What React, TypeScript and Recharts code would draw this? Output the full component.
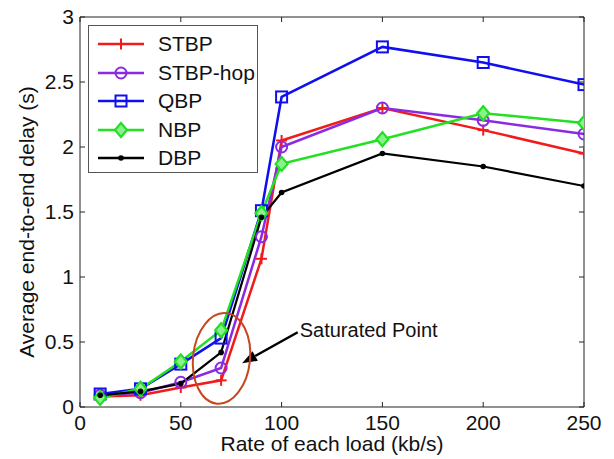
import { Label, Legend, Line, LineChart, ReferenceDot, ReferenceLine, XAxis, YAxis } from "recharts";

const rates = [10, 30, 50, 70, 90, 100, 150, 200, 250];
const stbp = [0.08, 0.09, 0.15, 0.205, 1.14, 2.05, 2.3, 2.13, 1.95];
const stbpHop = [0.09, 0.11, 0.19, 0.3, 1.31, 2.0, 2.3, 2.205, 2.1];
const qbp = [0.1, 0.14, 0.33, 0.53, 1.51, 2.385, 2.77, 2.65, 2.48];
const nbp = [0.07, 0.14, 0.35, 0.59, 1.49, 1.87, 2.06, 2.26, 2.185];
const dbp = [0.09, 0.12, 0.18, 0.42, 1.46, 1.65, 1.95, 1.85, 1.7];

const xTicks = [0, 50, 100, 150, 200, 250];
const yTicks = [0, 0.5, 1, 1.5, 2, 2.5, 3];

const series = [
  { key: "stbp", name: "STBP", color: "#f01c1c", marker: "plus", values: stbp },
  { key: "stbpHop", name: "STBP-hop", color: "#8a2be2", marker: "circle", values: stbpHop },
  { key: "qbp", name: "QBP", color: "#1010ee", marker: "square", values: qbp },
  { key: "nbp", name: "NBP", color: "#22e022", marker: "diamond", values: nbp },
  { key: "dbp", name: "DBP", color: "#000000", marker: "dot", values: dbp },
];

const rows = rates.map((rate, i) => {
  const row: Record<string, number> = { rate };
  series.forEach((s) => (row[s.key] = s.values[i]));
  return row;
});

const FONT = '"Liberation Sans", Arial, Helvetica, sans-serif';
const AXIS = "#222";

function Marker({ kind, cx, cy, color }: { kind: string; cx: number; cy: number; color: string }) {
  if (cx == null || cy == null) return <g />;
  switch (kind) {
    case "plus":
      return (
        <g stroke={color} strokeWidth={2}>
          <line x1={cx - 5.5} y1={cy} x2={cx + 5.5} y2={cy} />
          <line x1={cx} y1={cy - 5.5} x2={cx} y2={cy + 5.5} />
        </g>
      );
    case "circle":
      return <circle cx={cx} cy={cy} r={5.5} fill="none" stroke={color} strokeWidth={2} />;
    case "square":
      return <rect x={cx - 5.5} y={cy - 5.5} width={11} height={11} fill="none" stroke={color} strokeWidth={2} />;
    case "diamond":
      return (
        <polygon
          points={`${cx},${cy - 7} ${cx + 6},${cy} ${cx},${cy + 7} ${cx - 6},${cy}`}
          fill="#8cf08c"
          stroke={color}
          strokeWidth={2.2}
        />
      );
    default:
      return <circle cx={cx} cy={cy} r={2.8} fill={color} />;
  }
}

function LegendBox() {
  return (
    <div
      style={{
        width: 170,
        height: 148,
        border: "1px solid #555",
        background: "#fff",
        fontFamily: FONT,
        fontSize: 21,
        color: "#111",
        paddingTop: 4,
        boxSizing: "border-box",
      }}
    >
      {series.map((s) => (
        <div key={s.key} style={{ display: "flex", alignItems: "center", height: 28.5 }}>
          <svg width={58} height={20} style={{ marginLeft: 8 }}>
            <line x1={1} y1={10} x2={47} y2={10} stroke={s.color} strokeWidth={2.5} />
            <Marker kind={s.marker} cx={24} cy={10} color={s.color} />
          </svg>
          <span style={{ marginLeft: 3 }}>{s.name}</span>
        </div>
      ))}
    </div>
  );
}

function Annotation(props: any) {
  const { x1, y1, x2, y2 } = props;
  if (x1 == null) return <g />;
  const ang = Math.atan2(y2 - y1, x2 - x1);
  const len = 15;
  const w = 5.5;
  const bx = x2 - len * Math.cos(ang);
  const by = y2 - len * Math.sin(ang);
  const px = -Math.sin(ang) * w;
  const py = Math.cos(ang) * w;
  return (
    <g>
      <line x1={x1} y1={y1} x2={bx} y2={by} stroke="#000" strokeWidth={2.5} />
      <polygon points={`${x2},${y2} ${bx + px},${by + py} ${bx - px},${by - py}`} fill="#000" />
      <text x={x1 + 2} y={y1 - 2} dominantBaseline="central" fontFamily={FONT} fontSize={20} fill="#111">
        Saturated Point
      </text>
    </g>
  );
}

function Ellipse(props: any) {
  const { cx, cy } = props;
  if (cx == null) return <g />;
  return (
    <ellipse
      cx={cx}
      cy={cy}
      rx={28.5}
      ry={45.5}
      fill="none"
      stroke="#c8461e"
      strokeWidth={2}
      transform={`rotate(6 ${cx} ${cy})`}
    />
  );
}

const tickStyle = { fontFamily: FONT, fontSize: 21, fill: "#111" };

export default function App() {
  return (
    <div style={{ position: "absolute", left: 0, top: 0, background: "#fff" }}>
      <LineChart width={614} height={459} data={rows} margin={{ top: 16, right: 29, bottom: 0, left: 0 }}>
        <XAxis
          xAxisId="b"
          type="number"
          dataKey="rate"
          domain={[0, 250]}
          ticks={xTicks}
          height={52}
          tickSize={-5}
          tickMargin={13}
          tick={tickStyle}
          stroke={AXIS}
          allowDataOverflow
        >
          <Label
            content={({ viewBox }: any) => (
              <text
                x={viewBox.x + viewBox.width / 2}
                y={viewBox.y + 44}
                textAnchor="middle"
                fontFamily={FONT}
                fontSize={21}
                fill="#111"
              >
                Rate of each load (kb/s)
              </text>
            )}
          />
        </XAxis>
        <XAxis
          xAxisId="t"
          orientation="top"
          type="number"
          dataKey="rate"
          domain={[0, 250]}
          ticks={xTicks}
          height={1}
          tickSize={-5}
          tick={() => <g />}
          stroke={AXIS}
          allowDataOverflow
        />
        <YAxis
          yAxisId="l"
          type="number"
          domain={[0, 3]}
          ticks={yTicks}
          width={80}
          tickSize={-5}
          tickMargin={11}
          tick={tickStyle}
          stroke={AXIS}
          allowDataOverflow
        >
          <Label
            content={({ viewBox }: any) => {
              const x = 26;
              const y = viewBox.y + viewBox.height / 2 + 10;
              return (
                <text
                  x={x}
                  y={y}
                  transform={`rotate(-90 ${x} ${y})`}
                  textAnchor="middle"
                  dominantBaseline="central"
                  fontFamily={FONT}
                  fontSize={21}
                  fill="#111"
                >
                  Average end-to-end delay (s)
                </text>
              );
            }}
          />
        </YAxis>
        <YAxis
          yAxisId="r"
          orientation="right"
          type="number"
          domain={[0, 3]}
          ticks={yTicks}
          width={1}
          tickSize={-5}
          tick={() => <g />}
          stroke={AXIS}
          allowDataOverflow
        />
        {series.map((s) => (
          <Line
            key={s.key}
            xAxisId="b"
            yAxisId="l"
            type="linear"
            dataKey={s.key}
            name={s.name}
            stroke={s.color}
            strokeWidth={s.key === "dbp" ? 2.2 : 2.5}
            isAnimationActive={false}
            dot={(p: any) => <Marker key={`${s.key}-${p.index}`} kind={s.marker} cx={p.cx} cy={p.cy} color={s.color} />}
            activeDot={false}
          />
        ))}
        <ReferenceDot xAxisId="b" yAxisId="l" x={70.2} y={0.374} shape={Ellipse} ifOverflow="visible" />
        <ReferenceLine
          xAxisId="b"
          yAxisId="l"
          segment={[
            { x: 108, y: 0.575 },
            { x: 80.4, y: 0.336 },
          ]}
          shape={Annotation}
          ifOverflow="visible"
        />
        <Legend
          layout="vertical"
          align="center"
          verticalAlign="middle"
          content={() => <LegendBox />}
          wrapperStyle={{ left: 88, top: 25, width: "auto" }}
        />
      </LineChart>
    </div>
  );
}
